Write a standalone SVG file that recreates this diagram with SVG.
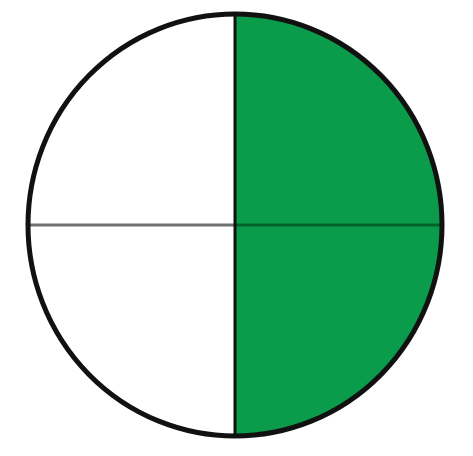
<svg xmlns="http://www.w3.org/2000/svg" width="473" height="456" viewBox="0 0 473 456">
<rect width="473" height="456" fill="#ffffff"/>
<g id="circle">
<path d="M235,14 A207,211 0 0 1 235,436 Z" fill="#0a9c4a"/>
<line x1="28" y1="225" x2="235" y2="225" stroke="#707070" stroke-width="3"/>
<line x1="235" y1="225" x2="442" y2="225" stroke="#05602a" stroke-width="3"/>
<line x1="235" y1="14" x2="235" y2="436" stroke="#111" stroke-width="3"/>
<ellipse cx="235" cy="225" rx="207" ry="211" fill="none" stroke="#111" stroke-width="5"/>
</g>
</svg>
